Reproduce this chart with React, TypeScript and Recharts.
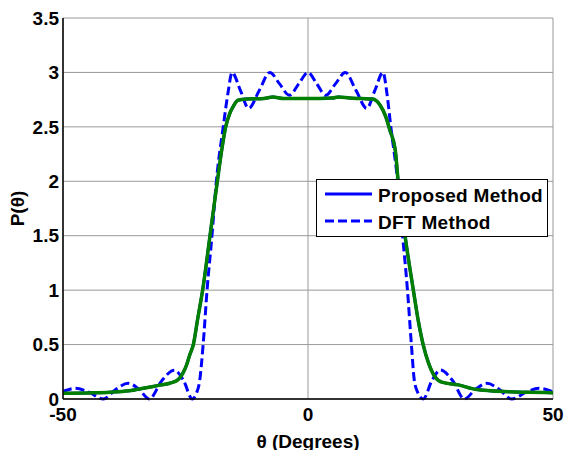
import React from "react";
import {
  LineChart,
  Line,
  XAxis,
  YAxis,
  CartesianGrid,
  Legend,
  Label
} from "recharts";

// theta in degrees, power
const dftTheta = [
  -50, -47.5, -44.6, -41.8, -39.2, -36.7, -34.5, -32.4, -29.8, -27.3,
  -25.4, -23.6, -22.8, -22.1, -21.4, -20.6, -19.6, -18.7, -17.3, -16.3,
  -15.5, -13.8, -12.1, -9.95, -7.8, -5.8, -3.8, -1.9, 0, 1.8,
  3.6, 5.6, 7.6, 9.8, 12.0, 13.65, 15.3, 16.1, 16.9, 18.3,
  19.3, 20.3, 21.1, 21.7, 22.5, 23.5, 25.3, 27.0, 29.5, 31.9,
  34.2, 36.5, 39.0, 41.6, 44.4, 47.1, 50
];
const dftPower = [
  0.07, 0.098, 0.06, 0, 0.09, 0.144, 0.09, 0, 0.17, 0.265,
  0.17, 0, 0.05, 0.17, 0.5, 1.0, 1.5, 2.0, 2.5, 2.82,
  3.0, 2.835, 2.67, 2.835, 3.0, 2.895, 2.79, 2.895, 3.0, 2.895,
  2.79, 2.895, 3.0, 2.835, 2.67, 2.835, 3.0, 2.81, 2.5, 2.0,
  1.5, 1.0, 0.5, 0.17, 0.05, 0, 0.17, 0.266, 0.17, 0,
  0.09, 0.144, 0.09, 0, 0.06, 0.098, 0.065
];

const proposedTheta = [
  -50, -45, -40.4, -36.5, -33.6, -30.5, -28.2, -26.5, -25.5, -24.8,
  -24.1, -23.4, -22.5, -21.5, -20.0, -18.5, -17.6, -16.8, -15.9, -15.1,
  -14.3, -12.5, -9.0, -7.2, -5.0, 0, 5.0, 6.2, 8.5, 11.0,
  13.2, 14.7, 15.9, 16.7, 17.8, 18.4, 19.8, 21.5, 22.5, 23.5,
  24.6, 25.9, 27.3, 30.7, 34.1, 40.9, 45, 50
];
const proposedPower = [
  0.052, 0.056, 0.062, 0.075, 0.098, 0.125, 0.145, 0.178, 0.24, 0.31,
  0.41, 0.5, 0.74, 1.0, 1.5, 2.0, 2.29, 2.5, 2.63, 2.7,
  2.745, 2.755, 2.76, 2.775, 2.76, 2.76, 2.765, 2.775, 2.765, 2.76,
  2.755, 2.7, 2.59, 2.47, 2.29, 2.0, 1.5, 1.0, 0.72, 0.5,
  0.33, 0.205, 0.155, 0.13, 0.09, 0.067, 0.062, 0.058
];

const xTicks = [-50, 0, 50];
const yTicks = [0, 0.5, 1, 1.5, 2, 2.5, 3, 3.5];
const legendLabels = ["Proposed Method", "DFT Method"];

const dftData = dftTheta.map((t, i) => ({ theta: t, p: dftPower[i] }));
const proposedData = proposedTheta.map((t, i) => ({ theta: t, p: proposedPower[i] }));

const font = "'Liberation Sans', Arial, sans-serif";
const tickStyle = { fontFamily: font, fontWeight: 700, fontSize: 19, fill: "#000" };
const BLUE = "#0000ff";
const GREEN = "#007f00";

const LegendBox = () => (
  <svg width={232} height={58} style={{ display: "block" }}>
    <rect x={0.5} y={0.5} width={231} height={57} fill="#fff" stroke="#000" strokeWidth={1} />
    <line x1={9} x2={56} y1={15} y2={15} stroke={BLUE} strokeWidth={3} />
    <line x1={9} x2={56} y1={42} y2={42} stroke={BLUE} strokeWidth={3} strokeDasharray="9 4" />
    <text x={62} y={22.5} style={{ ...tickStyle, letterSpacing: 0.3 }}>{legendLabels[0]}</text>
    <text x={62} y={49.5} style={{ ...tickStyle, letterSpacing: 0.3 }}>{legendLabels[1]}</text>
  </svg>
);

export default function App() {
  return (
    <div style={{ position: "absolute", left: 0, top: 0 }}>
      <LineChart
        width={564}
        height={450}
        margin={{ top: 18, right: 11, bottom: 15, left: 13 }}
        style={{ fontFamily: font }}
      >
        <CartesianGrid stroke="#999" strokeWidth={1} />
        <XAxis
          dataKey="theta"
          type="number"
          domain={[-50, 50]}
          ticks={xTicks}
          allowDataOverflow
          height={36}
          tickLine={false}
          tickSize={0}
          tickMargin={9}
          axisLine={{ stroke: "#000", strokeWidth: 1.5 }}
          tick={tickStyle}
        >
          <Label
            content={({ viewBox }: any) => (
              <text
                x={viewBox.x + viewBox.width / 2}
                y={448}
                textAnchor="middle"
                style={tickStyle}
              >
                θ (Degrees)
              </text>
            )}
          />
        </XAxis>
        <XAxis
          xAxisId="top"
          dataKey="theta"
          type="number"
          orientation="top"
          domain={[-50, 50]}
          ticks={xTicks}
          height={0}
          mirror
          tickSize={5}
          tickFormatter={() => ""}
          axisLine={{ stroke: "#000" }}
          tickLine={{ stroke: "#000" }}
        />
        <YAxis
          type="number"
          domain={[0, 3.5]}
          ticks={yTicks}
          width={50}
          tickLine={false}
          tickSize={0}
          tickMargin={4}
          axisLine={{ stroke: "#000", strokeWidth: 1.5 }}
          tick={tickStyle}
        >
          <Label
            content={({ viewBox }: any) => {
              const cx = 24;
              const cy = viewBox.y + viewBox.height / 2;
              return (
                <text
                  x={cx}
                  y={cy}
                  textAnchor="middle"
                  transform={`rotate(-90, ${cx}, ${cy})`}
                  style={tickStyle}
                >
                  P(θ)
                </text>
              );
            }}
          />
        </YAxis>
        <YAxis
          yAxisId="right"
          type="number"
          orientation="right"
          domain={[0, 3.5]}
          ticks={yTicks}
          width={0}
          mirror
          tickSize={5}
          tickFormatter={() => ""}
          axisLine={{ stroke: "#000" }}
          tickLine={{ stroke: "#000" }}
        />
        <Line
          data={proposedData}
          dataKey="p"
          type="monotone"
          stroke={BLUE}
          strokeWidth={3}
          dot={false}
          activeDot={false}
          isAnimationActive={false}
        />
        <Line
          data={dftData}
          dataKey="p"
          type="monotone"
          stroke={BLUE}
          strokeWidth={3}
          strokeDasharray="9 4"
          dot={false}
          activeDot={false}
          isAnimationActive={false}
        />
        <Line
          data={proposedData}
          dataKey="p"
          type="monotone"
          stroke={GREEN}
          strokeWidth={3.5}
          dot={false}
          activeDot={false}
          isAnimationActive={false}
        />
        <Legend
          layout="vertical"
          align="center"
          verticalAlign="middle"
          wrapperStyle={{ left: 316, top: 179, width: 232, height: 58 }}
          content={() => <LegendBox />}
        />
      </LineChart>
    </div>
  );
}
